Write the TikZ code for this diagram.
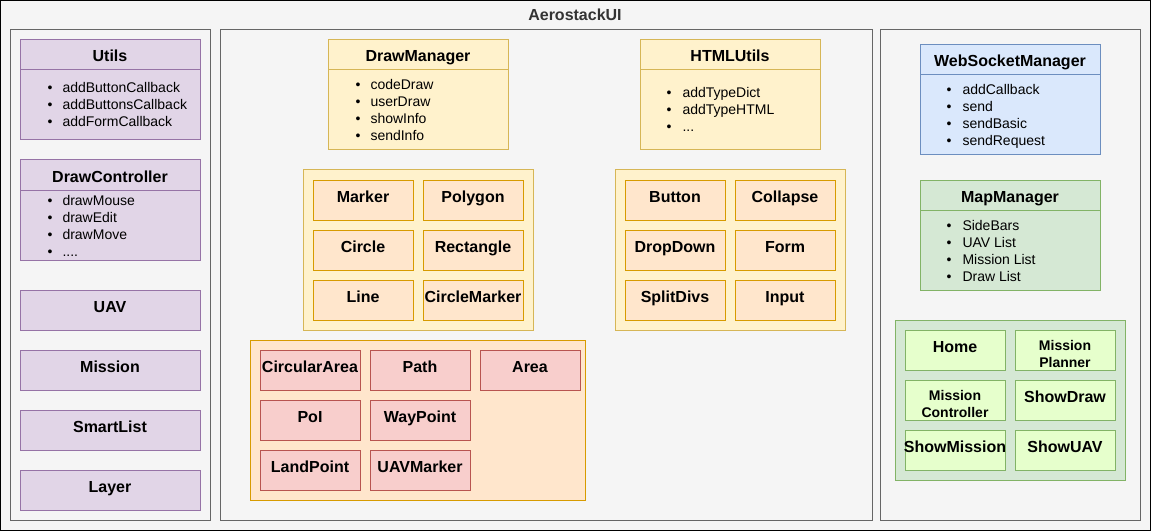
\documentclass[tikz,border=0pt]{standalone}
\usepackage{fontspec}
\setmainfont{Liberation Sans}
\usetikzlibrary{calc}
\definecolor{bgF}{HTML}{F5F5F5}
\definecolor{contD}{HTML}{666666}
\definecolor{ttlC}{HTML}{333333}
\definecolor{purpF}{HTML}{E1D5E7}
\definecolor{purpD}{HTML}{9673A6}
\definecolor{yelF}{HTML}{FFF2CC}
\definecolor{yelD}{HTML}{D6B656}
\definecolor{orF}{HTML}{FFE6CC}
\definecolor{orD}{HTML}{D79B00}
\definecolor{redF}{HTML}{F8CECC}
\definecolor{redD}{HTML}{B85450}
\definecolor{bluF}{HTML}{DAE8FC}
\definecolor{bluD}{HTML}{6C8EBF}
\definecolor{grnF}{HTML}{D5E8D4}
\definecolor{grnD}{HTML}{82B366}
\definecolor{lgrF}{HTML}{E6FFCC}
\newcommand\mydotsfour{....}
\newcommand\mydotsthree{...}
\begin{document}
\begin{tikzpicture}[x=0.75pt,y=-0.75pt,line width=0.75pt,
  bx/.style 2 args={rectangle,anchor=north west,inner sep=0pt,outer sep=0pt,minimum width=#1*0.75pt,minimum height=#2*0.75pt},
  outerbox/.style={draw=black,fill=bgF},
  contbox/.style={draw=contD,fill=bgF},
  purp/.style={draw=purpD,fill=purpF},
  yel/.style={draw=yelD,fill=yelF},
  ornge/.style={draw=orD,fill=orF},
  redbox/.style={draw=redD,fill=redF},
  blu/.style={draw=bluD,fill=bluF},
  grn/.style={draw=grnD,fill=grnF},
  lgr/.style={draw=grnD,fill=lgrF},
  ttl/.style={font=\bfseries\fontsize{12}{14}\selectfont,anchor=base,inner sep=0pt},
  itm/.style={font=\fontsize{10.5}{12.6}\selectfont,anchor=base west,inner sep=0pt},
  bul/.style={font=\fontsize{10.5}{12.6}\selectfont,anchor=base,inner sep=0pt},
  sml/.style={font=\bfseries\fontsize{10.5}{12.6}\selectfont,anchor=base,inner sep=0pt},
]
\useasboundingbox (0,0) rectangle (1152,531);
% outer
\node[bx={1150}{530},outerbox] (outer) at (0.5,0.5) {};
\node[ttl,text=ttlC] (outer-t) at (575,21) {AerostackUI};
% containers
\node[bx={200}{490},contbox] (left) at (10,30) {};
\node[bx={652}{490},contbox] (mid) at (220,30) {};
\node[bx={260}{490},contbox] (right) at (880,30) {};

% ---------- left column
\node[bx={180}{100},purp] (utils) at (20,40) {};
\draw[purpD] ($(utils.north west)+(0,30)$) -- ($(utils.north east)+(0,30)$);
\node[ttl] (utils-t) at (110,62) {Utils};
\foreach \t [count=\i] in {addButtonCallback,addButtonsCallback,addFormCallback}{
  \node[bul] (utils-b\i) at (50,{93+17*(\i-1)}) {•};
  \node[itm] (utils-i\i) at (62,{93+17*(\i-1)}) {\t};
}
\node[bx={180}{100},purp] (dctrl) at (20,160) {};
\draw[purpD] ($(dctrl.north west)+(0,30)$) -- ($(dctrl.north east)+(0,30)$);
\node[ttl] (dctrl-t) at (110,182) {DrawController};
\foreach \t [count=\i] in {drawMouse,drawEdit,drawMove,\mydotsfour}{
  \node[bul] (dctrl-b\i) at (50,{205+17*(\i-1)}) {•};
  \node[itm] (dctrl-i\i) at (62,{205+17*(\i-1)}) {\t};
}
\foreach \t/\y [count=\i] in {UAV/290,Mission/350,SmartList/410,Layer/470}{
  \node[bx={180}{40},purp] (lb\i) at (20,\y) {};
  \node[ttl] (lb\i-t) at (110,{\y+22}) {\t};
}

% ---------- middle column
\node[bx={180}{110},yel] (dman) at (328,40) {};
\draw[yelD] ($(dman.north west)+(0,30)$) -- ($(dman.north east)+(0,30)$);
\node[ttl] (dman-t) at (418,62) {DrawManager};
\foreach \t [count=\i] in {codeDraw,userDraw,showInfo,sendInfo}{
  \node[bul] (dman-b\i) at (358,{90+17*(\i-1)}) {•};
  \node[itm] (dman-i\i) at (370,{90+17*(\i-1)}) {\t};
}
\node[bx={180}{110},yel] (html) at (640,40) {};
\draw[yelD] ($(html.north west)+(0,30)$) -- ($(html.north east)+(0,30)$);
\node[ttl] (html-t) at (730,62) {HTMLUtils};
\foreach \t [count=\i] in {addTypeDict,addTypeHTML,\mydotsthree}{
  \node[bul] (html-b\i) at (669,{98+17*(\i-1)}) {•};
  \node[itm] (html-i\i) at (682,{98+17*(\i-1)}) {\t};
}
% shapes group
\node[bx={230}{160},yel] (shapes) at (303,170) {};
\foreach \t/\x/\y [count=\i] in {Marker/313/180,Polygon/423/180,Circle/313/230,Rectangle/423/230,Line/313/280,CircleMarker/423/280}{
  \node[bx={100}{40},ornge] (sh\i) at (\x,\y) {};
  \node[ttl] (sh\i-t) at ({\x+50},{\y+22}) {\t};
}
% widgets group
\node[bx={230}{160},yel] (widgets) at (615,170) {};
\foreach \t/\x/\y [count=\i] in {Button/625/180,Collapse/735/180,DropDown/625/230,Form/735/230,SplitDivs/625/280,Input/735/280}{
  \node[bx={100}{40},ornge] (wg\i) at (\x,\y) {};
  \node[ttl] (wg\i-t) at ({\x+50},{\y+22}) {\t};
}
% mission elements group
\node[bx={335}{160},ornge] (melem) at (250,340) {};
\foreach \t/\x/\y [count=\i] in {CircularArea/260/350,Path/370/350,Area/480/350,PoI/260/400,WayPoint/370/400,LandPoint/260/450,UAVMarker/370/450}{
  \node[bx={100}{40},redbox] (me\i) at (\x,\y) {};
  \node[ttl] (me\i-t) at ({\x+50},{\y+22}) {\t};
}

% ---------- right column
\node[bx={180}{110},blu] (ws) at (920,45) {};
\draw[bluD] ($(ws.north west)+(0,30)$) -- ($(ws.north east)+(0,30)$);
\node[ttl] (ws-t) at (1010,67) {WebSocketManager};
\foreach \t [count=\i] in {addCallback,send,sendBasic,sendRequest}{
  \node[bul] (ws-b\i) at (949,{95+17*(\i-1)}) {•};
  \node[itm] (ws-i\i) at (962,{95+17*(\i-1)}) {\t};
}
\node[bx={180}{110},grn] (mm) at (920,180) {};
\draw[grnD] ($(mm.north west)+(0,30)$) -- ($(mm.north east)+(0,30)$);
\node[ttl] (mm-t) at (1010,202) {MapManager};
\foreach \t [count=\i] in {SideBars,UAV List,Mission List,Draw List}{
  \node[bul] (mm-b\i) at (949,{230+17*(\i-1)}) {•};
  \node[itm] (mm-i\i) at (962,{230+17*(\i-1)}) {\t};
}
% pages group
\node[bx={230}{160},grn] (pages) at (895,320) {};
\node[bx={100}{40},lgr] (pg1) at (905,330) {};
\node[ttl] (pg1-t) at (955,352) {Home};
\node[bx={100}{40},lgr] (pg2) at (1015,330) {};
\node[sml] (pg2-t1) at (1065,350) {Mission};
\node[sml] (pg2-t2) at (1065,367) {Planner};
\node[bx={100}{40},lgr] (pg3) at (905,380) {};
\node[sml] (pg3-t1) at (955,400) {Mission};
\node[sml] (pg3-t2) at (955,417) {Controller};
\node[bx={100}{40},lgr] (pg4) at (1015,380) {};
\node[ttl] (pg4-t) at (1065,402) {ShowDraw};
\node[bx={100}{40},lgr] (pg5) at (905,430) {};
\node[ttl] (pg5-t) at (955,452) {ShowMission};
\node[bx={100}{40},lgr] (pg6) at (1015,430) {};
\node[ttl] (pg6-t) at (1065,452) {ShowUAV};
\end{tikzpicture}
\end{document}
